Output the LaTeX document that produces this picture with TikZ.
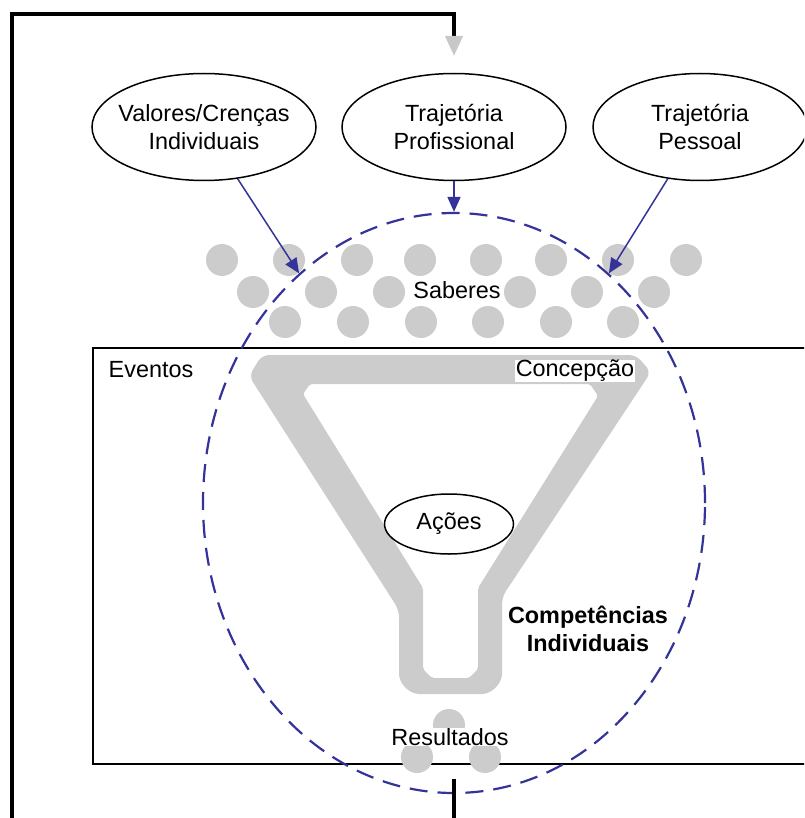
\documentclass[tikz,border=0pt]{standalone}
\usepackage{fontspec}
\setmainfont{Liberation Sans}
\usetikzlibrary{shapes.geometric,arrows.meta}
\definecolor{navy}{RGB}{51,51,153}
\definecolor{dotgray}{RGB}{204,204,204}
\definecolor{arrowgray}{RGB}{200,200,200}

\begin{document}
\begin{tikzpicture}[x=1pt,y=-1pt,
  every node/.style={font=\fontsize{23.4pt}{28pt}\selectfont},
  bubble/.style={draw, ellipse, line width=1.5pt, minimum width=224pt,
    minimum height=107pt, inner xsep=-14pt, inner ysep=0pt, align=center},
  tag/.style={inner sep=0.5pt, fill=white},
  feed/.style={navy, line width=1.5pt, -{Triangle[length=15pt,width=13pt]}},
  backline/.style={line width=3.8pt},
]
\useasboundingbox (0,0) rectangle (804,818);
\clip (0,0) rectangle (804,818);

% frame of the events area
\draw[line width=1.5pt] (93,348) rectangle (840,764);

% knowledge grains
\foreach \x in {222,289,357,420,486,551,618,686}
  \fill[dotgray] (\x,260) circle (16pt);
\foreach \x in {253,321,389,520,587,654}
  \fill[dotgray] (\x,292) circle (16pt);
\foreach \x in {285,353,421,488,556,623}
  \fill[dotgray] (\x,322) circle (16pt);

% grains leaving the funnel
\fill[dotgray] (449,725) circle (16pt);
\fill[dotgray] (417,757) circle (16pt);
\fill[dotgray] (485,757) circle (16pt);

% the funnel
\fill[dotgray, even odd rule]
  [rounded corners=7pt]
  (262,355) -- (636,355) -- (651,372) -- (502,597) -- (502,681)
  -- (489,694) -- (412,694) -- (399,681) -- (399,610) -- (249,376) -- cycle
  [rounded corners=2pt]
  (310,384) -- (590,384) -- (598,396) -- (478,588) -- (478,669)
  -- (469,678) -- (432,678) -- (423,669) -- (423,588) -- (303,394) -- cycle;

% labels
\node (eventos) at (151,370) {Eventos};
\node[tag] (concepcao) at (575,371) {Concepção};
\node (saberes) at (457,290) {Saberes};
\node[tag] (resultados) at (450,737) {Resultados};
\node[font=\fontsize{23.4pt}{28pt}\selectfont\bfseries, align=center]
  (competencias) at (588,629) {Competências\\Individuais};
\node[draw, ellipse, fill=white, line width=1.5pt, minimum width=129pt,
  minimum height=60pt, inner sep=0pt] (acoes) at (449,524) {Ações};

% sources
\node[bubble] (valores) at (204,127) {Valores/Crenças\\Individuais};
\node[bubble] (profissional) at (454,127) {Trajetória\\Profissional};
\node[bubble, minimum width=214pt] (pessoal) at (700,127) {Trajetória\\Pessoal};

% individual competences boundary
\node[draw=navy, ellipse, line width=2.2pt, dash pattern=on 18pt off 10pt,
  minimum width=502pt, minimum height=580pt, inner sep=0pt] (boundary)
  at (454,503) {};

% inputs
\draw[feed] (valores) -- (boundary.124);
\draw[feed] (profissional) -- (boundary.north);
\draw[feed] (pessoal) -- (boundary.56);

% feedback loop
\coordinate (fbstart) at (454,779);
\coordinate (fbend) at (454,56);
\draw[backline, -{Triangle[length=20pt,width=17pt,color=arrowgray]}]
  (fbstart) -- (454,840) -- (12,840) -- (12,14) -- (454,14) -- (fbend);
\end{tikzpicture}
\end{document}
